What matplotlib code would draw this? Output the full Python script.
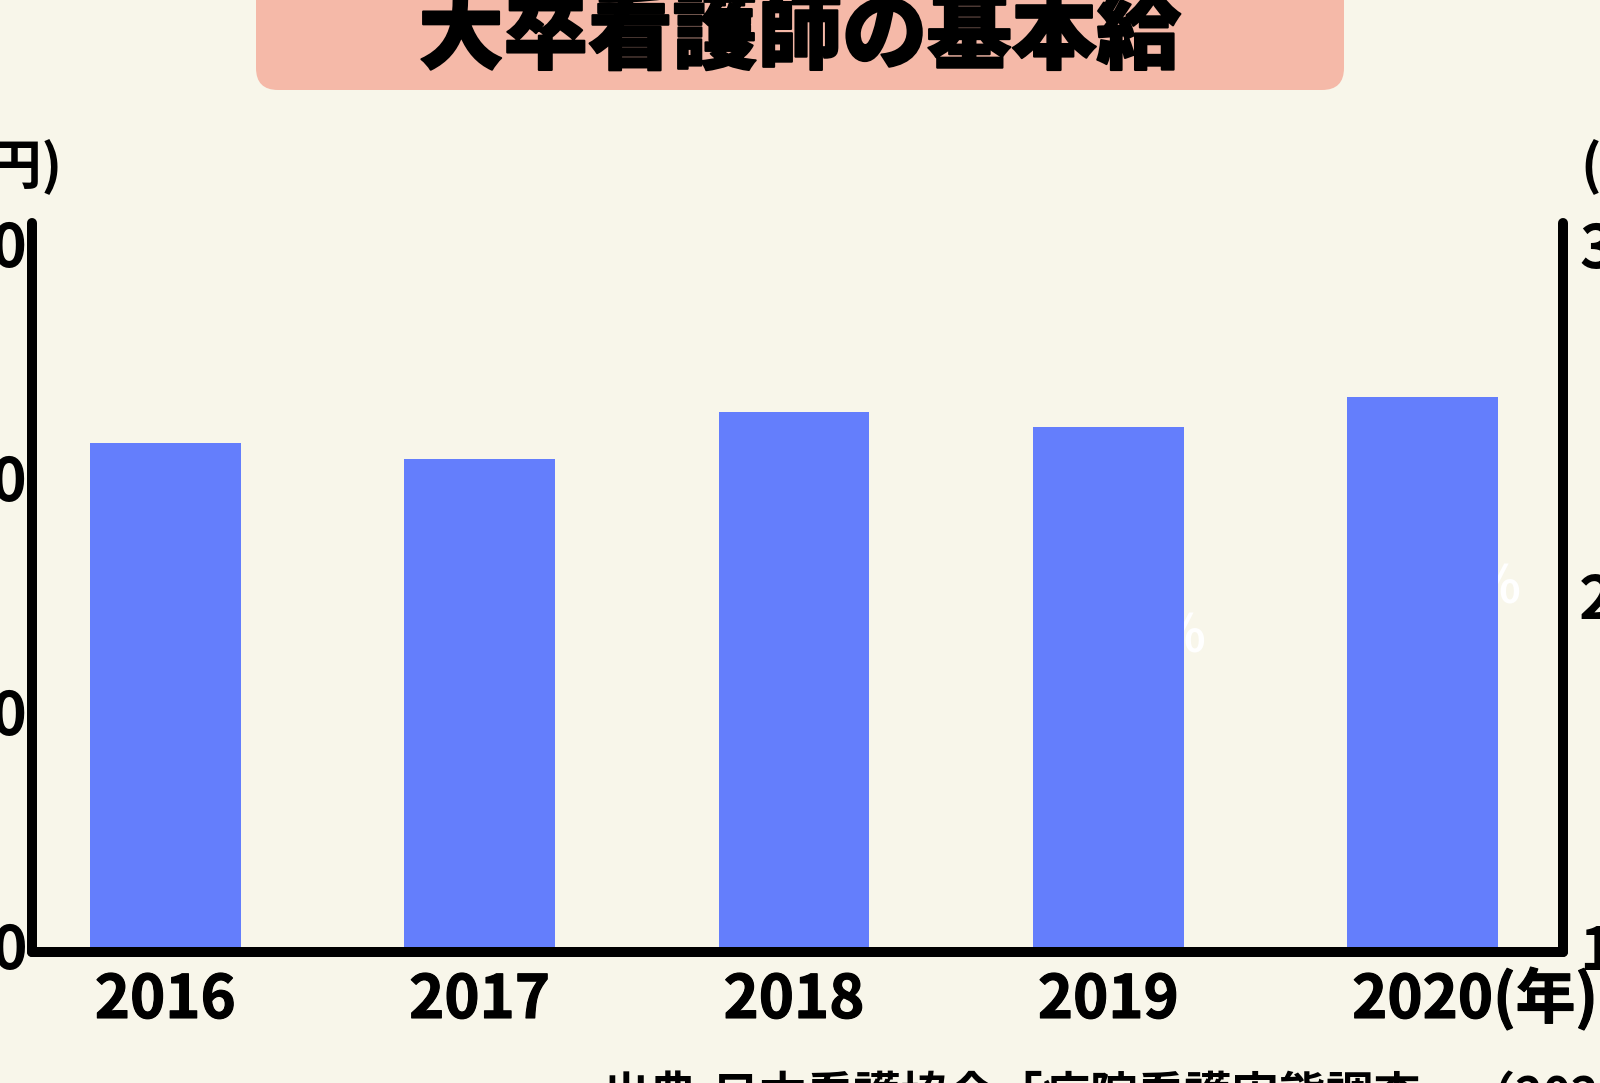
import matplotlib
matplotlib.use("Agg")
import matplotlib.pyplot as plt
from matplotlib.patches import FancyBboxPatch
from matplotlib.transforms import IdentityTransform, blended_transform_factory
import matplotlib.patheffects as pe

plt.rcParams['font.family'] = ['Noto Sans CJK JP', 'DejaVu Sans']

# ---- data ----
years = ["2016", "2017", "2018", "2019", "2020"]
salary = [205750, 205400, 206400, 206100, 206730]
left_ticks = [195000, 200000, 205000, 210000]
right_ticks = [1.0, 2.0, 3.0]
rate_years = [3, 4]          # indices of the (mostly hidden) rate labels
rate_values = [1.88, 2.02]

title = "大卒看護師の基本給"
source = "出典:日本看護協会「病院看護実態調査」（2021年）"

BG = "#F8F6EA"
BAR = "#647EFC"
BOX = "#F5B9A8"

W_PX, H_PX = 1600, 1083
fig = plt.figure(figsize=(W_PX / 100, H_PX / 100), dpi=100, facecolor=BG)

# axes placement (pixels -> fractions)
x0, x1 = 31.7, 1562.5
ytop, ybot = 223, 951.7
ax = fig.add_axes([x0 / W_PX, (H_PX - ybot) / H_PX, (x1 - x0) / W_PX, (ybot - ytop) / H_PX])
ax.patch.set_visible(False)

xs = list(range(len(years)))
ax.bar(xs, salary, width=0.48, color=BAR, zorder=3)
ax.set_xlim(-0.425, 4.445)
ax.set_ylim(194878, 210449)
ax.set_xticks([])
ax.set_yticks(left_ticks)
ax.set_yticklabels([f"{v:,}" for v in left_ticks])
ax.tick_params(axis='y', length=0, pad=3, labelsize=43)
for lab in ax.get_yticklabels():
    lab.set_fontweight('bold')

ax2 = ax.twinx()
ax2.set_ylim(0.984, 3.060)
ax2.set_yticks(right_ticks)
ax2.set_yticklabels([f"{v:.1f}" for v in right_ticks])
ax2.tick_params(axis='y', length=0, pad=12, labelsize=43)
for lab in ax2.get_yticklabels():
    lab.set_fontweight('bold')

LW = 7.2
for a in (ax, ax2):
    for s in a.spines.values():
        s.set_visible(False)
ax.spines['left'].set_visible(True)
ax.spines['bottom'].set_visible(True)
ax2.spines['right'].set_visible(True)
for s in (ax.spines['left'], ax.spines['bottom'], ax2.spines['right']):
    s.set_linewidth(LW)
    s.set_color('black')
    s.set_capstyle('round')
    s.set_zorder(5)

# hidden rate labels (white, drawn under the bars)
for i, v in zip(rate_years, rate_values):
    ax.text(i + 0.312, v, f"{v:.1f}%", transform=ax2.transData, color='white',
            fontsize=37, fontweight='bold', ha='right', va='center', zorder=1)

# x labels
tr = blended_transform_factory(ax.transData, fig.transFigure)
last = None
for i, y in zip(xs, years):
    last = ax.text(i, (H_PX - 1018) / H_PX, y, transform=tr, ha='center', va='baseline',
                   fontsize=43, fontweight='bold', clip_on=False,
                   path_effects=[pe.withStroke(linewidth=0.8, foreground='black')])
ax.annotate("(年)", xy=(1, 0), xycoords=last, ha='left', va='bottom',
            fontsize=43, fontweight='bold', annotation_clip=False,
            path_effects=[pe.withStroke(linewidth=0.8, foreground='black')])

# unit labels
fig.text(63 / W_PX, (H_PX - 168) / H_PX, "(円)", ha='right', va='center', fontsize=39, fontweight='bold')
fig.text(1580 / W_PX, (H_PX - 168) / H_PX, "(%)", ha='left', va='center', fontsize=39, fontweight='bold')

# title box
box = FancyBboxPatch((256, H_PX - 90), 1088, 140, boxstyle="round,pad=0,rounding_size=22",
                     transform=IdentityTransform(), facecolor=BOX, edgecolor='none')
fig.add_artist(box)
fig.text(0.5, (H_PX - 62) / H_PX, title, ha='center', va='baseline', fontsize=61,
         fontweight='heavy',
         path_effects=[pe.withStroke(linewidth=1.5, foreground='black')])

# source
fig.text(602 / W_PX, (H_PX - 1111) / H_PX, source, ha='left', va='baseline', fontsize=34,
         fontweight='bold')

fig.savefig("out.png", dpi=100, facecolor=BG)
